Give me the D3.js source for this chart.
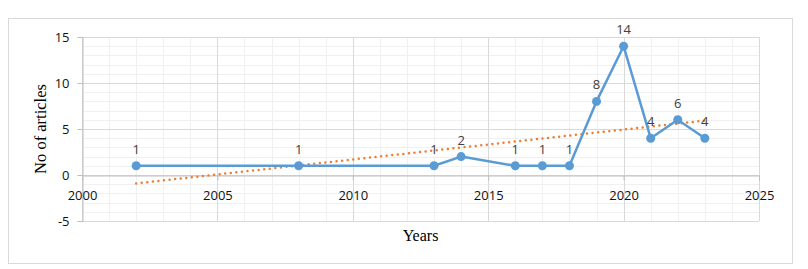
<!DOCTYPE html>
<html>
<head>
<meta charset="utf-8">
<script src="https://cdn.jsdelivr.net/npm/d3@7"></script>
<style>
  body { margin: 0; background: #fff; }
  svg text { font-family: "Open Sans", "Liberation Sans", sans-serif; }
</style>
</head>
<body>
<div id="chart"></div>
<script>
// articles per year
var years = [2002, 2008, 2013, 2014, 2016, 2017, 2018, 2019, 2020, 2021, 2022, 2023];
var articles = [1, 1, 1, 2, 1, 1, 1, 8, 14, 4, 6, 4];
var xTicks = [2000, 2005, 2010, 2015, 2020, 2025];
var yTicks = [-5, 0, 5, 10, 15];

var W = 808, H = 269;
var svg = d3.select('#chart').append('svg')
  .attr('width', W).attr('height', H);

// chart frame
svg.append('rect')
  .attr('x', 8.5).attr('y', 18.5).attr('width', 784).attr('height', 245)
  .attr('fill', '#fff').attr('stroke', '#d9d9d9');

var x = d3.scaleLinear().domain([2000, 2025]).range([82, 759]);
var y = d3.scaleLinear().domain([-5, 15]).range([221, 37]);

// minor grid
var g = svg.append('g');
g.selectAll('.vminor').data(d3.range(2000, 2026))
  .enter().append('line')
  .attr('x1', function(d){ return Math.round(x(d)) + 0.5; })
  .attr('x2', function(d){ return Math.round(x(d)) + 0.5; })
  .attr('y1', y(15)).attr('y2', y(-5))
  .attr('stroke', '#f0f0f0');
g.selectAll('.hminor').data(d3.range(-5, 16))
  .enter().append('line')
  .attr('x1', x(2000)).attr('x2', x(2025))
  .attr('y1', function(d){ return Math.round(y(d)) + 0.5; })
  .attr('y2', function(d){ return Math.round(y(d)) + 0.5; })
  .attr('stroke', '#f0f0f0');
// major grid
g.selectAll('.vmajor').data(xTicks)
  .enter().append('line')
  .attr('x1', function(d){ return Math.round(x(d)) + 0.5; })
  .attr('x2', function(d){ return Math.round(x(d)) + 0.5; })
  .attr('y1', y(15)).attr('y2', y(-5))
  .attr('stroke', '#d9d9d9');
g.selectAll('.hmajor').data(yTicks)
  .enter().append('line')
  .attr('x1', x(2000)).attr('x2', x(2025))
  .attr('y1', function(d){ return Math.round(y(d)) + 0.5; })
  .attr('y2', function(d){ return Math.round(y(d)) + 0.5; })
  .attr('stroke', '#d9d9d9');

// axes
var yAxis = svg.append('g')
  .attr('transform', 'translate(' + (Math.round(x(2000)) + 0.5) + ',0)')
  .call(d3.axisLeft(y).tickValues(yTicks).tickFormat(function(d){ return String(d); })
    .tickSize(5).tickPadding(8));
var xAxis = svg.append('g')
  .attr('transform', 'translate(0,' + (Math.round(y(0)) + 0.5) + ')')
  .call(d3.axisBottom(x).tickValues(xTicks).tickFormat(function(d){ return String(d); })
    .tickSize(5).tickPadding(10));
[yAxis, xAxis].forEach(function(a){
  a.select('.domain').attr('stroke', '#bfbfbf');
  a.selectAll('.tick line').attr('stroke', '#bfbfbf');
  a.selectAll('.tick text').attr('fill', '#111')
    .style('font-size', '13px');
});

// trendline (least squares on the data)
var mx = d3.mean(years), my = d3.mean(articles);
var slope = d3.sum(years, function(d, i){ return (d - mx) * (articles[i] - my); }) /
  d3.sum(years, function(d){ return (d - mx) * (d - mx); });
var icpt = my - slope * mx;
var tr = [years[0], years[years.length - 1]];
svg.append('line')
  .attr('x1', x(tr[0])).attr('y1', y(icpt + slope * tr[0]))
  .attr('x2', x(tr[1])).attr('y2', y(icpt + slope * tr[1]))
  .attr('stroke', '#ED7D31').attr('stroke-width', 2.5)
  .attr('stroke-linecap', 'round')
  .attr('stroke-dasharray', '0,5.6');

// series line
var pts = years.map(function(d, i){ return [d, articles[i]]; });
svg.append('path')
  .datum(pts)
  .attr('fill', 'none')
  .attr('stroke', '#5B9BD5').attr('stroke-width', 2.5)
  .attr('stroke-linejoin', 'round')
  .attr('d', d3.line().x(function(d){ return x(d[0]); }).y(function(d){ return y(d[1]); }));

svg.selectAll('.pt').data(pts)
  .enter().append('circle')
  .attr('cx', function(d){ return x(d[0]); })
  .attr('cy', function(d){ return y(d[1]); })
  .attr('r', 4.5)
  .attr('fill', '#5B9BD5');

svg.selectAll('.lbl').data(pts)
  .enter().append('text')
  .attr('x', function(d){ return x(d[0]); })
  .attr('y', function(d){ return y(d[1]) - 12; })
  .attr('text-anchor', 'middle')
  .attr('fill', '#404040')
  .style('font-size', '13px')
  .text(function(d){ return d[1]; });

// axis titles
svg.append('text')
  .attr('x', (x(2000) + x(2025)) / 2).attr('y', 241)
  .attr('text-anchor', 'middle')
  .style('font-family', '"Liberation Serif", serif')
  .style('font-size', '16px')
  .attr('fill', '#000')
  .text('Years');
svg.append('text')
  .attr('transform', 'translate(46,' + ((y(15) + y(-5)) / 2) + ') rotate(-90)')
  .attr('text-anchor', 'middle')
  .style('font-family', '"Liberation Serif", serif')
  .style('font-size', '16.5px')
  .attr('fill', '#000')
  .text('No of articles');
</script>
</body>
</html>
